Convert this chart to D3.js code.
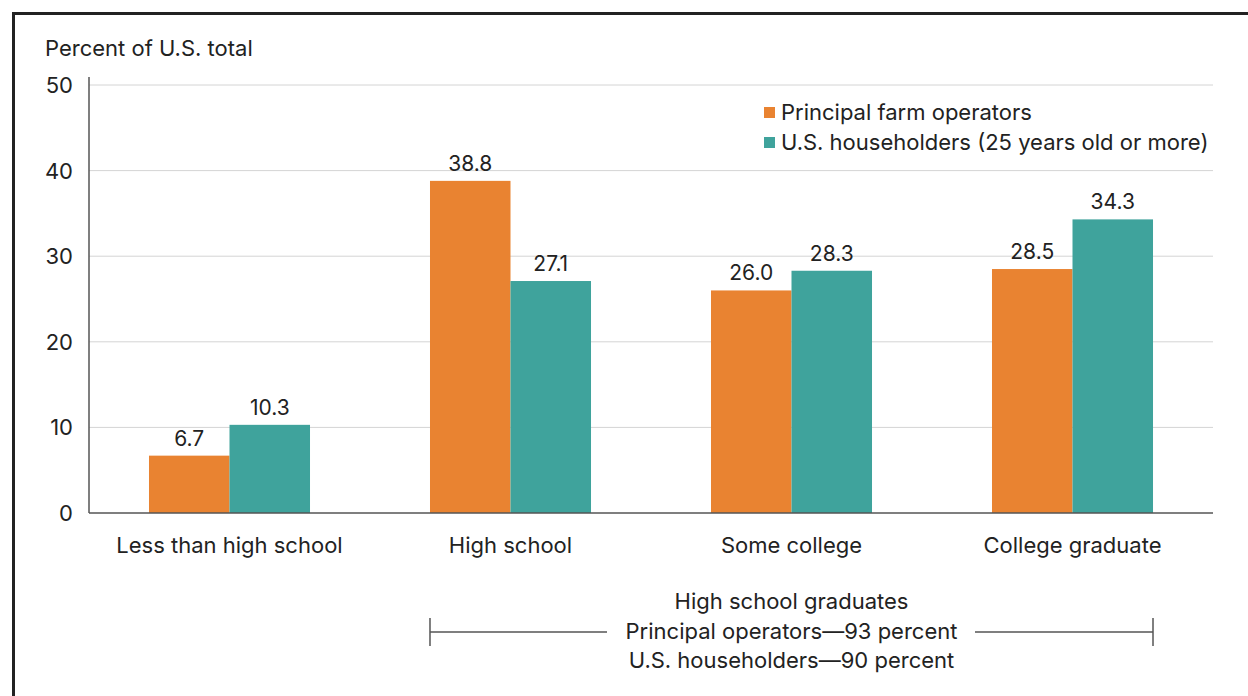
<!DOCTYPE html>
<html>
<head>
<meta charset="utf-8">
<script src="https://cdn.jsdelivr.net/npm/d3@7"></script>
<style>
  body { margin: 0; background: #fff; }
  text { font-family: Inter, "Noto Sans", sans-serif; fill: #222; }
</style>
</head>
<body>
<div id="chart"></div>
<script>
// education levels, percent of U.S. total
const categories = ["Less than high school", "High school", "Some college", "College graduate"];
const seriesNames = ["Principal farm operators", "U.S. householders (25 years old or more)"];
const operators = [6.7, 38.8, 26.0, 28.5];
const householders = [10.3, 27.1, 28.3, 34.3];
const yTicks = [0, 10, 20, 30, 40, 50];
const noteLines = ["High school graduates", "Principal operators\u201493 percent", "U.S. householders\u201490 percent"];

const width = 1248, height = 696;
const colors = ["#e98331", "#3fa39c"];

const svg = d3.select("#chart").append("svg")
    .attr("width", width)
    .attr("height", height);

// frame
svg.append("rect")
    .attr("x", 13.5).attr("y", 13.5)
    .attr("width", width + 20).attr("height", height + 20)
    .attr("fill", "none")
    .attr("stroke", "#222")
    .attr("stroke-width", 3);

const plotLeft = 89, plotRight = 1213, plotTop = 85, plotBottom = 513;

const x = d3.scaleBand()
    .domain(categories)
    .range([plotLeft, plotRight])
    .paddingInner(0.427)
    .paddingOuter(0.2135);

const x1 = d3.scaleBand()
    .domain([0, 1])
    .range([0, x.bandwidth()]);

const y = d3.scaleLinear()
    .domain([0, 50])
    .range([plotBottom, plotTop]);

// gridlines
svg.append("g")
    .selectAll("line")
    .data(yTicks.filter(d => d > 0))
    .join("line")
    .attr("x1", plotLeft).attr("x2", plotRight)
    .attr("y1", d => y(d)).attr("y2", d => y(d))
    .attr("stroke", "#d4d4d4")
    .attr("stroke-width", 1);

// y tick labels
svg.append("g")
    .selectAll("text")
    .data(yTicks)
    .join("text")
    .attr("x", 73)
    .attr("y", d => y(d) + 8)
    .attr("text-anchor", "end")
    .attr("font-size", 22)
    .text(d => d);

svg.append("text")
    .attr("x", 45).attr("y", 56)
    .attr("font-size", 22)
    .text("Percent of U.S. total");

// bars
const rows = categories.map((c, i) => ({ cat: c, vals: [operators[i], householders[i]] }));

const groups = svg.append("g")
    .selectAll("g")
    .data(rows)
    .join("g")
    .attr("transform", d => `translate(${x(d.cat)},0)`);

groups.selectAll("rect")
    .data(d => d.vals.map((v, k) => ({ v, k })))
    .join("rect")
    .attr("x", d => x1(d.k))
    .attr("width", x1.bandwidth())
    .attr("y", d => y(d.v))
    .attr("height", d => y(0) - y(d.v))
    .attr("fill", d => colors[d.k]);

groups.selectAll("text")
    .data(d => d.vals.map((v, k) => ({ v, k })))
    .join("text")
    .attr("x", d => x1(d.k) + x1.bandwidth() / 2)
    .attr("y", d => y(d.v) - 10)
    .attr("text-anchor", "middle")
    .attr("font-size", 21)
    .text(d => d.v.toFixed(1));

// axes lines
svg.append("line")
    .attr("x1", plotLeft).attr("x2", plotLeft)
    .attr("y1", 77).attr("y2", plotBottom)
    .attr("stroke", "#555").attr("stroke-width", 1.5);
svg.append("line")
    .attr("x1", plotLeft).attr("x2", plotRight)
    .attr("y1", plotBottom).attr("y2", plotBottom)
    .attr("stroke", "#555").attr("stroke-width", 1.5);

// category labels
svg.append("g")
    .selectAll("text")
    .data(categories)
    .join("text")
    .attr("x", d => x(d) + x.bandwidth() / 2)
    .attr("y", 553)
    .attr("text-anchor", "middle")
    .attr("font-size", 22)
    .text(d => d);

// legend
const legend = svg.append("g").attr("transform", "translate(764,0)");
seriesNames.forEach((name, i) => {
    const ly = 112 + i * 30;
    legend.append("rect")
        .attr("x", 0).attr("y", ly - 5)
        .attr("width", 11).attr("height", 11)
        .attr("fill", colors[i]);
    legend.append("text")
        .attr("x", 17).attr("y", ly + 8)
        .attr("font-size", 22)
        .text(name);
});

// high school graduates bracket
const bx1 = x(categories[1]), bx2 = x(categories[3]) + x.bandwidth();
const noteX = (bx1 + bx2) / 2;
svg.append("g")
    .selectAll("text")
    .data(noteLines)
    .join("text")
    .attr("x", noteX)
    .attr("y", (d, i) => 609 + i * 29.5)
    .attr("text-anchor", "middle")
    .attr("font-size", 22)
    .text(d => d);

const by = 632;
const bracket = svg.append("g").attr("stroke", "#555").attr("stroke-width", 1.5);
bracket.append("line").attr("x1", bx1).attr("x2", 607).attr("y1", by).attr("y2", by);
bracket.append("line").attr("x1", 975).attr("x2", bx2).attr("y1", by).attr("y2", by);
bracket.append("line").attr("x1", bx1).attr("x2", bx1).attr("y1", by - 14).attr("y2", by + 14);
bracket.append("line").attr("x1", bx2).attr("x2", bx2).attr("y1", by - 14).attr("y2", by + 14);
</script>
</body>
</html>
